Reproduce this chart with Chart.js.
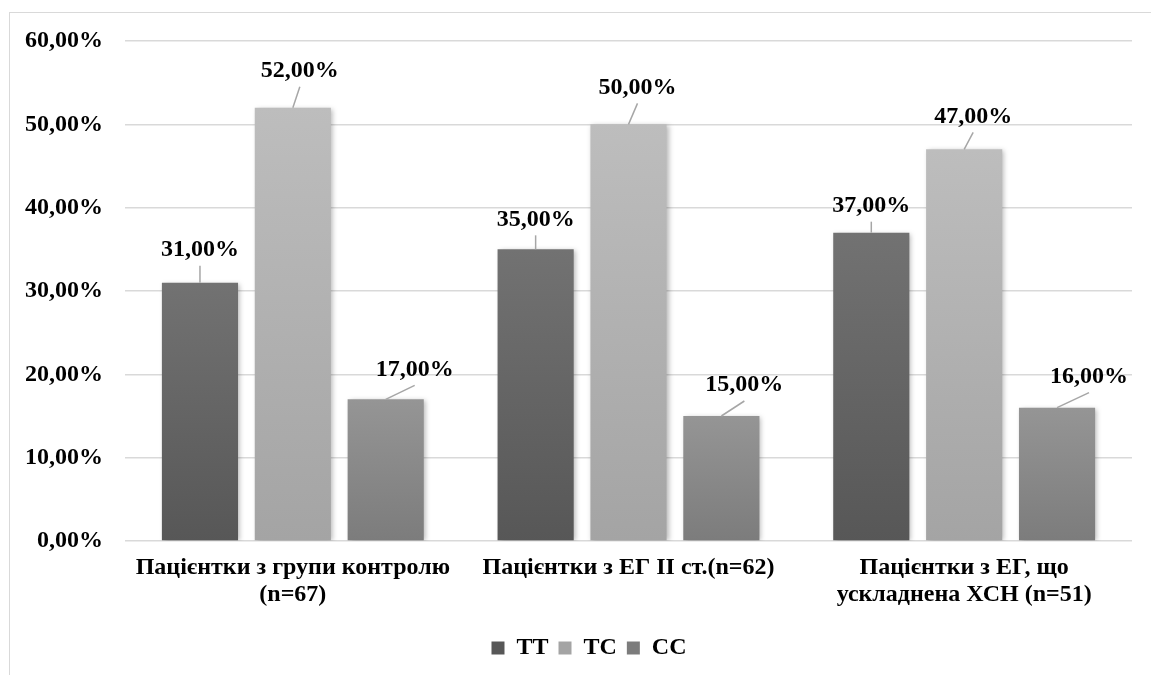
<!DOCTYPE html>
<html>
<head>
<meta charset="utf-8">
<script src="https://cdn.jsdelivr.net/npm/chart.js@4"></script>
<style>
  body { margin: 0; background: #fff; }
  #wrap { position: relative; width: 1151px; height: 675px; overflow: hidden; }
  #frame { position: absolute; left: 9px; top: 12px; width: 1200px; height: 700px;
           border-left: 1px solid #d9d9d9; border-top: 1px solid #d9d9d9; }
  canvas { position: absolute; left: 0; top: 0; }
</style>
</head>
<body>
<div id="wrap">
  <div id="frame"></div>
  <canvas id="plot" width="1151" height="675"></canvas>
</div>
<script>
let categorias = [
  ['Пацієнтки з групи контролю', '(n=67)'],
  'Пацієнтки з ЕГ ІІ ст.(n=62)',
  ['Пацієнтки з ЕГ, що', 'ускладнена ХСН (n=51)']
];
let serieNombres = ['TT', 'TC', 'CC'];
let valoresTT = [31, 35, 37];
let valoresTC = [52, 50, 47];
let valoresCC = [17, 15, 16];
let ticksY = [0, 10, 20, 30, 40, 50, 60];

// colores de degradado (arriba, abajo) por serie
let coloresSerie = [
  ['#727272', '#575757'],
  ['#bdbdbd', '#a4a4a4'],
  ['#959595', '#7c7c7c']
];

// posicion de cada etiqueta respecto a la parte superior de la barra [dx, dy]
let desplazEtiquetas = [
  [[0, -33], [0, -30], [0, -27]],
  [[7, -37], [9, -37], [9, -33]],
  [[29, -30], [23, -31], [32, -31]]
];

const fuente = { family: '"Liberation Serif", "Times New Roman", serif', weight: 'bold', size: 24, lineHeight: 1.12 };
let formato = v => v.toFixed(2).replace('.', ',') + '%';

let degradado = (context, dsIndex) => {
  let chart = context.chart;
  let y = chart.scales.y;
  if (!chart.chartArea || !y || context.raw === undefined) return coloresSerie[dsIndex][1];
  let top = y.getPixelForValue(context.raw);
  let base = y.getPixelForValue(0);
  if (!isFinite(top) || !isFinite(base) || top === base) return coloresSerie[dsIndex][1];
  let g = chart.ctx.createLinearGradient(0, top, 0, base);
  g.addColorStop(0, coloresSerie[dsIndex][0]);
  g.addColorStop(1, coloresSerie[dsIndex][1]);
  return g;
};

let sombras = {
  id: 'sombras',
  beforeDatasetsDraw(chart) {
    let ctx = chart.ctx;
    ctx.save();
    ctx.shadowColor = 'rgba(0,0,0,0.28)';
    ctx.shadowBlur = 5;
    ctx.shadowOffsetX = 2;
    ctx.shadowOffsetY = 1;
  },
  afterDatasetsDraw(chart) {
    chart.ctx.restore();
  }
};

// la leyenda del original esta centrada respecto al marco, no al lienzo
let moverLeyenda = {
  id: 'moverLeyenda',
  afterLayout(chart) {
    chart.legend.left += 23;
    chart.legend.right += 23;
  }
};

let etiquetas = {
  id: 'etiquetas',
  afterDatasetsDraw(chart) {
    let ctx = chart.ctx;
    ctx.save();
    ctx.font = `${fuente.weight} ${fuente.size}px ${fuente.family}`;
    ctx.textAlign = 'center';
    ctx.textBaseline = 'middle';
    chart.data.datasets.forEach((ds, i) => {
      let meta = chart.getDatasetMeta(i);
      meta.data.forEach((bar, j) => {
        let d = desplazEtiquetas[i][j];
        let lx = bar.x + d[0];
        let ly = bar.y + d[1];
        let finLinea = ly + 16;
        if (bar.y - finLinea > 4) {
          ctx.beginPath();
          ctx.strokeStyle = '#a6a6a6';
          ctx.lineWidth = 1.5;
          ctx.moveTo(bar.x, bar.y);
          ctx.lineTo(lx, finLinea);
          ctx.stroke();
        }
        ctx.fillStyle = '#000';
        ctx.fillText(formato(ds.data[j]), lx, ly);
      });
    });
    ctx.restore();
  }
};

let series = [valoresTT, valoresTC, valoresCC];

let config = {
  type: 'bar',
  data: {
    labels: categorias,
    datasets: series.map((vals, i) => ({
      label: serieNombres[i],
      data: vals,
      backgroundColor: ctx => degradado(ctx, i),
      borderWidth: 0,
      categoryPercentage: 0.83,
      barPercentage: 0.82
    }))
  },
  options: {
    responsive: false,
    animation: false,
    devicePixelRatio: 1,
    layout: { padding: { left: 0, top: 41, right: 19, bottom: 5 } },
    scales: {
      x: {
        grid: { display: false, drawTicks: false },
        border: { display: false },
        ticks: { color: '#000', font: fuente, padding: 13, maxRotation: 0, autoSkip: false },
        afterFit: s => { s.height = 85; }
      },
      y: {
        min: 0,
        max: 60,
        afterBuildTicks: s => { s.ticks = ticksY.map(v => ({ value: v })); },
        grid: { color: '#d9d9d9', lineWidth: 1.5, drawTicks: false },
        border: { display: false },
        ticks: { color: '#000', font: fuente, padding: 22, callback: v => formato(v) },
        afterFit: s => { s.width = 125; }
      }
    },
    plugins: {
      tooltip: { enabled: false },
      legend: {
        position: 'bottom',
        labels: {
          color: '#000',
          font: fuente,
          boxWidth: 13,
          boxHeight: 13,
          padding: 10,
          generateLabels: chart => serieNombres.map((n, i) => ({
            text: n,
            fillStyle: coloresSerie[i][1],
            strokeStyle: coloresSerie[i][1],
            lineWidth: 0,
            datasetIndex: i,
            hidden: false
          }))
        }
      }
    }
  },
  plugins: [sombras, etiquetas, moverLeyenda]
};

let plotRef = document.getElementById('plot');
let chart1 = new Chart(plotRef, config);
</script>
</body>
</html>
